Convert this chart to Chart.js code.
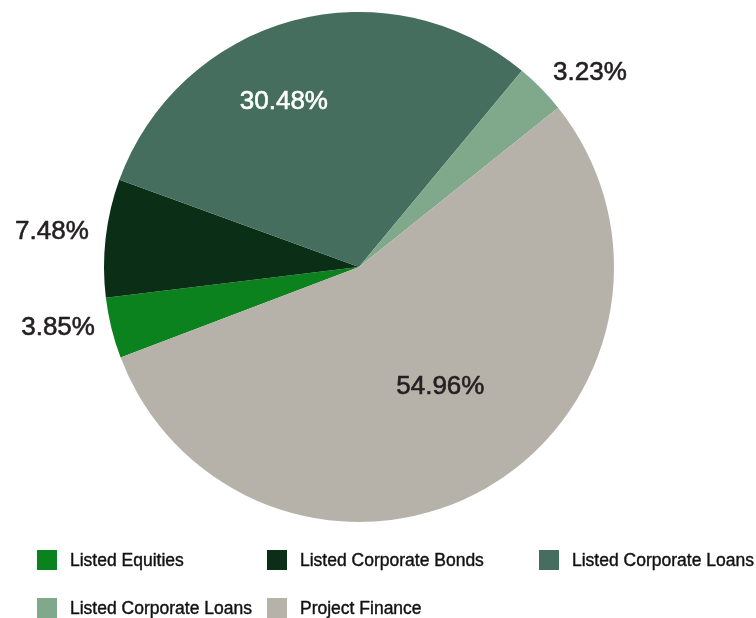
<!DOCTYPE html>
<html>
<head>
<meta charset="utf-8">
<script src="https://cdn.jsdelivr.net/npm/chart.js@4.4.1/dist/chart.umd.min.js"></script>
<style>
  html, body { margin: 0; padding: 0; background: #fff; }
  #grafico { display: block; }
</style>
</head>
<body>
<canvas id="grafico" width="756" height="618"></canvas>
<script>
const categorias = ["Listed Equities", "Listed Corporate Bonds", "Listed Corporate Loans", "Listed Corporate Loans", "Project Finance"];
const percentuais = [3.85, 7.48, 30.48, 3.23, 54.96];
const cores = ["#0b821e", "#0a2e16", "#466e5e", "#80a88b", "#b6b2aa"];

// where each percentage goes: inside the slice or just outside it
const rotulos = [
    { fora: true },
    { fora: true },
    { fora: false, raio: 0.72, desvio: -9, cor: "#ffffff" },
    { fora: true },
    { fora: false, raio: 0.56, desvio: -5, cor: "#231f20" }
];

const fonte = "'Liberation Sans', Arial, sans-serif";

// text a little heavier than the regular weight
function textoEncorpado(ctx, texto, x, y, cor, espessura) {
    ctx.fillStyle = cor;
    ctx.strokeStyle = cor;
    ctx.lineWidth = espessura;
    ctx.lineJoin = "round";
    ctx.strokeText(texto, x, y);
    ctx.fillText(texto, x, y);
}

const pluginRotulos = {
    id: "rotulos",
    afterDatasetsDraw(chart) {
        const ctx = chart.ctx;
        const arcos = chart.getDatasetMeta(0).data;
        ctx.save();
        ctx.font = "26px " + fonte;
        ctx.textBaseline = "middle";
        arcos.forEach((arco, i) => {
            const r = rotulos[i];
            const meio = (arco.startAngle + arco.endAngle) / 2;
            const texto = percentuais[i].toFixed(2) + "%";
            if (r.fora) {
                const d = arco.outerRadius + 17;
                const x = arco.x + Math.cos(meio) * d;
                const y = arco.y + Math.sin(meio) * d - 4;
                ctx.textAlign = Math.cos(meio) < 0 ? "right" : "left";
                textoEncorpado(ctx, texto, x, y, "#231f20", 0.6);
            } else {
                const ang = meio + r.desvio * Math.PI / 180;
                const d = arco.outerRadius * r.raio;
                ctx.textAlign = "center";
                textoEncorpado(ctx, texto, arco.x + Math.cos(ang) * d, arco.y + Math.sin(ang) * d + 2, r.cor, 0.6);
            }
        });
        ctx.restore();
    }
};

// legend in a fixed grid of three columns
const pluginLegenda = {
    id: "legendaGrade",
    afterDraw(chart) {
        const ctx = chart.ctx;
        const colunas = [37, 267, 539];
        const linhas = [560, 608];
        ctx.save();
        ctx.font = "17.5px " + fonte;
        ctx.textBaseline = "middle";
        ctx.textAlign = "left";
        categorias.forEach((nome, i) => {
            const x = colunas[i % 3];
            const y = linhas[Math.floor(i / 3)];
            ctx.fillStyle = cores[i];
            ctx.fillRect(x, y - 10, 20, 20);
            textoEncorpado(ctx, nome, x + 33, y + 1, "#111111", 0.4);
        });
        ctx.restore();
    }
};

new Chart(document.getElementById("grafico"), {
    type: "pie",
    data: {
        labels: categorias,
        datasets: [{
            data: percentuais,
            backgroundColor: cores,
            borderWidth: 0
        }]
    },
    options: {
        responsive: false,
        animation: false,
        rotation: 249.2,
        layout: { padding: { top: 12, bottom: 96, left: 0, right: 38 } },
        plugins: {
            legend: { display: false },
            tooltip: { enabled: false }
        }
    },
    plugins: [pluginRotulos, pluginLegenda]
});
</script>
</body>
</html>
